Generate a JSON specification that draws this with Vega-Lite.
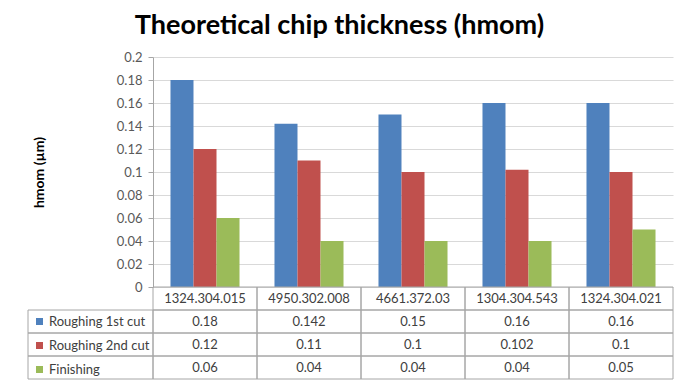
{
  "$schema": "https://vega.github.io/schema/vega-lite/v6.json",
  "background": "white",
  "padding": {"left": 27, "top": 12, "right": 8, "bottom": 8},
  "title": {"text": "Theoretical chip thickness (hmom)", "fontSize": 27, "font": "Lato", "fontWeight": "bold", "color": "#000000", "anchor": "middle", "offset": 11, "dx": -11},
  "datasets": {
    "d": [
      {"cat": "1324.304.015", "series": "Roughing 1st cut", "value": 0.18},
      {"cat": "1324.304.015", "series": "Roughing 2nd cut", "value": 0.12},
      {"cat": "1324.304.015", "series": "Finishing", "value": 0.06},
      {"cat": "4950.302.008", "series": "Roughing 1st cut", "value": 0.142},
      {"cat": "4950.302.008", "series": "Roughing 2nd cut", "value": 0.11},
      {"cat": "4950.302.008", "series": "Finishing", "value": 0.04},
      {"cat": "4661.372.03", "series": "Roughing 1st cut", "value": 0.15},
      {"cat": "4661.372.03", "series": "Roughing 2nd cut", "value": 0.1},
      {"cat": "4661.372.03", "series": "Finishing", "value": 0.04},
      {"cat": "1304.304.543", "series": "Roughing 1st cut", "value": 0.16},
      {"cat": "1304.304.543", "series": "Roughing 2nd cut", "value": 0.102},
      {"cat": "1304.304.543", "series": "Finishing", "value": 0.04},
      {"cat": "1324.304.021", "series": "Roughing 1st cut", "value": 0.16},
      {"cat": "1324.304.021", "series": "Roughing 2nd cut", "value": 0.1},
      {"cat": "1324.304.021", "series": "Finishing", "value": 0.05}
    ]
  },
  "config": {"font": "Lato", "view": {"stroke": "#a6a6a6"}},
  "spacing": 0,
  "bounds": "flush",
  "columns": 2,
  "resolve": {"scale": {"x": "independent", "y": "independent"}},
  "concat": [
    {"width": 125, "height": 230, "view": {"stroke": null}, "data": {"values": []}, "mark": "point"},
    {
      "width": 520, "height": 230,
      "view": {"stroke": null},
      "data": {"name": "d"},
      "mark": {"type": "bar"},
      "encoding": {
        "x": {"field": "cat", "type": "nominal", "sort": null, "axis": null, "scale": {"paddingInner": 0, "paddingOuter": 0}},
        "xOffset": {"field": "series", "type": "nominal", "sort": ["Roughing 1st cut", "Roughing 2nd cut", "Finishing"], "scale": {"paddingInner": 0, "paddingOuter": 0.76}},
        "y": {"field": "value", "type": "quantitative", "scale": {"domain": [0, 0.2], "nice": false},
          "axis": {"values": [0, 0.02, 0.04, 0.06, 0.08, 0.1, 0.12, 0.14, 0.16, 0.18, 0.2], "format": ".2~f",
            "title": "hmom (µm)", "titleFontSize": 14, "titleFontWeight": "bold", "titleColor": "#000000", "titlePadding": 70,
            "labelFontSize": 13, "labelColor": "#595959", "labelPadding": 6, "tickSize": 5, "tickColor": "#a6a6a6",
            "domainColor": "#a6a6a6", "gridColor": "#d9d9d9"}},
        "color": {"field": "series", "type": "nominal", "sort": ["Roughing 1st cut", "Roughing 2nd cut", "Finishing"],
          "scale": {"domain": ["Roughing 1st cut", "Roughing 2nd cut", "Finishing"], "range": ["#4f81bd", "#c0504d", "#9bbb59"]},
          "legend": {"orient": "none", "legendX": 5, "legendY": 258, "title": null, "symbolType": "square", "symbolSize": 49,
            "symbolStrokeWidth": 0, "labelFontSize": 13, "labelColor": "#404040", "rowPadding": 10, "labelOffset": 3, "padding": 0}}
      }
    },
    {
      "width": 125, "height": 92,
      "view": {"stroke": null},
      "data": {"name": "d"},
      "transform": [{"filter": "datum.cat === '1324.304.015'"}],
      "mark": {"type": "rect", "filled": false, "color": "#a6a6a6", "strokeWidth": 1},
      "encoding": {
        "y": {"field": "series", "type": "nominal",
          "scale": {"domain": ["cat", "Roughing 1st cut", "Roughing 2nd cut", "Finishing"], "paddingInner": 0, "paddingOuter": 0},
          "axis": null}
      }
    },
    {
      "width": 520, "height": 92,
      "view": {"stroke": null},
      "data": {"name": "d"},
      "encoding": {
        "x": {"field": "cat", "type": "nominal", "sort": null, "scale": {"paddingInner": 0, "paddingOuter": 0}, "axis": null}
      },
      "layer": [
        {
          "mark": {"type": "rect", "filled": false, "color": "#a6a6a6", "strokeWidth": 1},
          "encoding": {
            "y": {"field": "series", "type": "nominal",
              "scale": {"domain": ["cat", "Roughing 1st cut", "Roughing 2nd cut", "Finishing"], "paddingInner": 0, "paddingOuter": 0},
              "axis": null}
          }
        },
        {
          "transform": [{"filter": "datum.series === 'Roughing 1st cut'"}],
          "mark": {"type": "rect", "filled": false, "color": "#a6a6a6", "strokeWidth": 1},
          "encoding": {
            "y": {"datum": "cat", "type": "nominal"}
          }
        },
        {
          "transform": [{"filter": "datum.series === 'Roughing 1st cut'"}],
          "mark": {"type": "text", "fontSize": 13, "color": "#404040"},
          "encoding": {
            "y": {"datum": "cat", "type": "nominal"},
            "text": {"field": "cat"}
          }
        },
        {
          "mark": {"type": "text", "fontSize": 13, "color": "#404040"},
          "encoding": {
            "y": {"field": "series", "type": "nominal"},
            "text": {"field": "value", "type": "quantitative", "format": "~g"}
          }
        }
      ]
    }
  ]
}
